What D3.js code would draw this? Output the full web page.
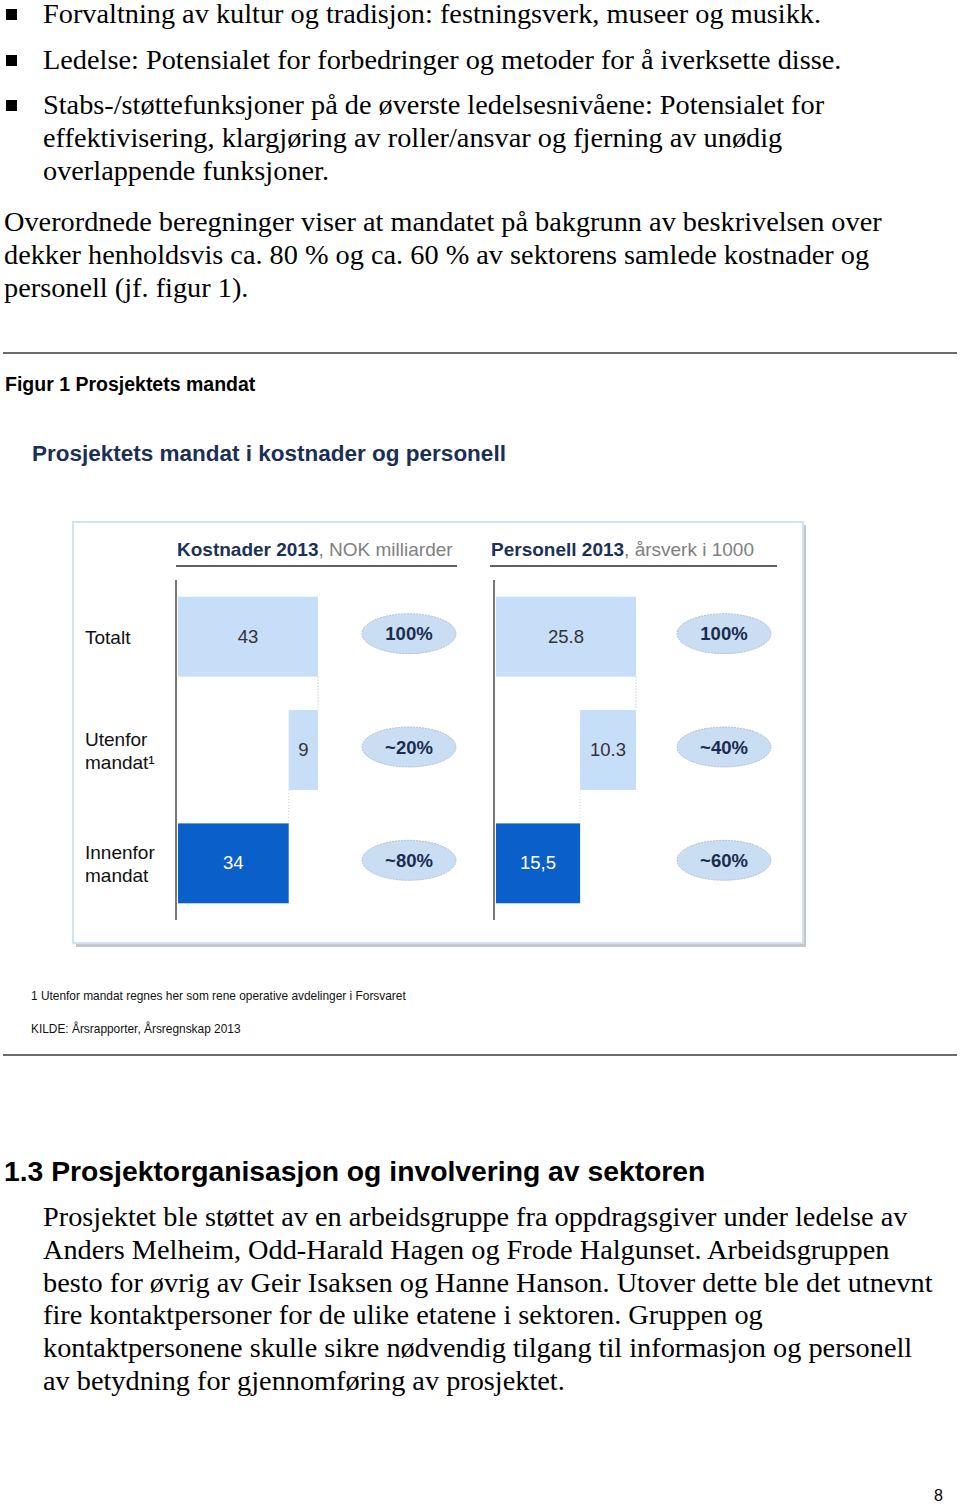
<!DOCTYPE html>
<html>
<head>
<meta charset="utf-8">
<script src="https://cdn.jsdelivr.net/npm/d3@7"></script>
<style>
  body { margin: 0; background: #fff; }
  svg { display: block; }
  .serif { font-family: "Liberation Serif", "Times New Roman", serif; font-size: 28.3px; fill: #000; }
  .sans { font-family: "Liberation Sans", Arial, sans-serif; }
</style>
</head>
<body>
<svg width="960" height="1505"></svg>
<script>
// chart data
const rows = ['Totalt', 'Utenfor mandat', 'Innenfor mandat'];
const rowLabels = [['Totalt'], ['Utenfor', 'mandat¹'], ['Innenfor', 'mandat']];
const kostnader = [43, 9, 34];
const kostLabels = ['43', '9', '34'];
const kostShares = ['100%', '~20%', '~80%'];
const personell = [25.8, 10.3, 15.5];
const persLabels = ['25.8', '10.3', '15,5'];
const persShares = ['100%', '~40%', '~60%'];

// page text
const bullets = [
  ['Forvaltning av kultur og tradisjon: festningsverk, museer og musikk.'],
  ['Ledelse: Potensialet for forbedringer og metoder for å iverksette disse.'],
  ['Stabs-/støttefunksjoner på de øverste ledelsesnivåene: Potensialet for',
   'effektivisering, klargjøring av roller/ansvar og fjerning av unødig',
   'overlappende funksjoner.']
];
const intro = [
  'Overordnede beregninger viser at mandatet på bakgrunn av beskrivelsen over',
  'dekker henholdsvis ca. 80 % og ca. 60 % av sektorens samlede kostnader og',
  'personell (jf. figur 1).'
];
const closing = [
  'Prosjektet ble støttet av en arbeidsgruppe fra oppdragsgiver under ledelse av',
  'Anders Melheim, Odd-Harald Hagen og Frode Halgunset. Arbeidsgruppen',
  'besto for øvrig av Geir Isaksen og Hanne Hanson. Utover dette ble det utnevnt',
  'fire kontaktpersoner for de ulike etatene i sektoren. Gruppen og',
  'kontaktpersonene skulle sikre nødvendig tilgang til informasjon og personell',
  'av betydning for gjennomføring av prosjektet.'
];

const svg = d3.select('svg');

// ---- body text above the figure
const bulletTops = [23, 69, 114];
bullets.forEach((lines, i) => {
  svg.append('rect')
    .attr('x', 6).attr('y', bulletTops[i] - 14)
    .attr('width', 11).attr('height', 11)
    .attr('fill', '#000');
  lines.forEach((t, j) => {
    svg.append('text').attr('class', 'serif')
      .attr('x', 43).attr('y', bulletTops[i] + j * 33)
      .text(t);
  });
});

intro.forEach((t, j) => {
  svg.append('text').attr('class', 'serif')
    .attr('x', 4).attr('y', 231 + j * 33)
    .text(t);
});

// rules
[353, 1055].forEach(y => {
  svg.append('line')
    .attr('x1', 3).attr('x2', 957)
    .attr('y1', y).attr('y2', y)
    .attr('stroke', '#3a3a3a').attr('stroke-width', 1.6);
});

svg.append('text').attr('class', 'sans')
  .attr('x', 5).attr('y', 391)
  .attr('font-size', 19.5).attr('font-weight', 'bold')
  .text('Figur 1 Prosjektets mandat');

svg.append('text').attr('class', 'sans')
  .attr('x', 32).attr('y', 461)
  .attr('font-size', 22.5).attr('font-weight', 'bold')
  .attr('fill', '#1b2f55')
  .text('Prosjektets mandat i kostnader og personell');

// ---- panel
svg.append('rect')
  .attr('x', 76).attr('y', 525)
  .attr('width', 730).attr('height', 422)
  .attr('fill', '#c3c8cf');
svg.append('rect')
  .attr('x', 73).attr('y', 522)
  .attr('width', 730).attr('height', 421)
  .attr('fill', '#fff')
  .attr('stroke', '#d3e2f0').attr('stroke-width', 2);

const y = d3.scaleBand()
  .domain(rows)
  .range([580, 920])
  .paddingInner(0.295)
  .paddingOuter(0.1475);

// row labels
rows.forEach((r, i) => {
  const lines = rowLabels[i];
  const cy = y(r) + y.bandwidth() / 2;
  lines.forEach((t, j) => {
    svg.append('text').attr('class', 'sans')
      .attr('x', 85)
      .attr('y', cy + 7 + (j - (lines.length - 1) / 2) * 23)
      .attr('font-size', 19).attr('fill', '#111')
      .text(t);
  });
});

function drawPanel(opts) {
  const { axisX, headX, pillX, values, labels, shares, bold, light, lineEnd } = opts;
  const g = svg.append('g');
  const total = values[0];
  const x = d3.scaleLinear()
    .domain([0, total])
    .range([axisX + 2, axisX + 142]);

  // waterfall extents: total, outside part stacked on inside part, inside part
  const spans = [[0, total], [values[2], total], [0, values[2]]];

  // header
  const head = g.append('text').attr('class', 'sans')
    .attr('x', headX).attr('y', 556)
    .attr('font-size', 19);
  head.append('tspan').attr('font-weight', 'bold').attr('fill', '#1c3157').text(bold);
  head.append('tspan').attr('fill', '#808080').text(light);
  g.append('line')
    .attr('x1', headX - 1).attr('x2', lineEnd)
    .attr('y1', 566).attr('y2', 566)
    .attr('stroke', '#5c6168').attr('stroke-width', 2);

  // connectors
  g.append('line')
    .attr('x1', x(total)).attr('x2', x(total))
    .attr('y1', y(rows[0]) + y.bandwidth()).attr('y2', y(rows[1]))
    .attr('stroke', '#b5b5b5').attr('stroke-dasharray', '1,2');
  g.append('line')
    .attr('x1', x(values[2])).attr('x2', x(values[2]))
    .attr('y1', y(rows[1]) + y.bandwidth()).attr('y2', y(rows[2]))
    .attr('stroke', '#d0d0d0').attr('stroke-dasharray', '1,2');

  // bars
  g.selectAll('.bar')
    .data(rows)
    .enter().append('rect')
      .attr('class', 'bar')
      .attr('x', (d, i) => x(spans[i][0]))
      .attr('width', (d, i) => x(spans[i][1]) - x(spans[i][0]))
      .attr('y', d => y(d))
      .attr('height', y.bandwidth())
      .attr('fill', (d, i) => i === 2 ? '#0b5fc8' : '#c6def7');

  g.selectAll('.val')
    .data(rows)
    .enter().append('text')
      .attr('class', 'sans val')
      .attr('x', (d, i) => (x(spans[i][0]) + x(spans[i][1])) / 2)
      .attr('y', d => y(d) + y.bandwidth() / 2 + 6)
      .attr('text-anchor', 'middle')
      .attr('font-size', 18.5)
      .attr('fill', (d, i) => i === 2 ? '#fff' : '#333')
      .text((d, i) => labels[i]);

  // axis line
  g.append('line')
    .attr('x1', axisX).attr('x2', axisX)
    .attr('y1', 580).attr('y2', 920)
    .attr('stroke', '#777').attr('stroke-width', 2);

  // share pills
  g.selectAll('.pill')
    .data(rows)
    .enter().append('ellipse')
      .attr('class', 'pill')
      .attr('cx', pillX)
      .attr('cy', d => y(d) + y.bandwidth() / 2 - 3)
      .attr('rx', 47).attr('ry', 20)
      .attr('fill', '#c9ddf3')
      .attr('stroke', '#a9b3bf').attr('stroke-width', 0.8)
      .attr('stroke-dasharray', '2,1');
  g.selectAll('.share')
    .data(rows)
    .enter().append('text')
      .attr('class', 'sans share')
      .attr('x', pillX)
      .attr('y', d => y(d) + y.bandwidth() / 2 + 3.5)
      .attr('text-anchor', 'middle')
      .attr('font-size', 18.5).attr('font-weight', 'bold')
      .attr('fill', '#1a2d50')
      .text((d, i) => shares[i]);
}

drawPanel({
  axisX: 176, headX: 177, pillX: 409,
  values: kostnader, labels: kostLabels, shares: kostShares,
  bold: 'Kostnader 2013', light: ', NOK milliarder', lineEnd: 457
});
drawPanel({
  axisX: 494, headX: 491, pillX: 724,
  values: personell, labels: persLabels, shares: persShares,
  bold: 'Personell 2013', light: ', årsverk i 1000', lineEnd: 777
});

// footnotes
svg.append('text').attr('class', 'sans')
  .attr('x', 31).attr('y', 1000)
  .attr('font-size', 11.9).attr('fill', '#111')
  .text('1 Utenfor mandat regnes her som rene operative avdelinger i Forsvaret');
svg.append('text').attr('class', 'sans')
  .attr('x', 31).attr('y', 1033)
  .attr('font-size', 11.9).attr('fill', '#111')
  .text('KILDE: Årsrapporter, Årsregnskap 2013');

// ---- section after the figure
svg.append('text').attr('class', 'sans')
  .attr('x', 4).attr('y', 1181)
  .attr('font-size', 28.3).attr('font-weight', 'bold')
  .text('1.3 Prosjektorganisasjon og involvering av sektoren');

closing.forEach((t, j) => {
  svg.append('text').attr('class', 'serif')
    .attr('x', 43).attr('y', 1226 + j * 32.8)
    .text(t);
});

svg.append('text').attr('class', 'sans')
  .attr('x', 934).attr('y', 1501)
  .attr('font-size', 16)
  .text('8');
</script>
</body>
</html>
